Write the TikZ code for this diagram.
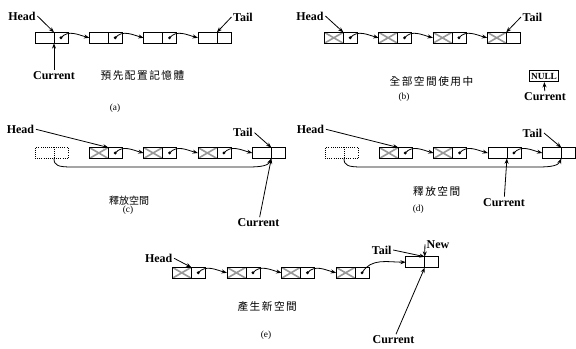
\documentclass[tikz,border=0pt]{standalone}
\usepackage{fontspec}
\setmainfont{Liberation Serif}
\newfontfamily\cjk[LetterSpace=14]{Noto Sans CJK TC}
\newfontfamily\cjkc{Noto Sans CJK TC}
\usetikzlibrary{arrows.meta,positioning}

\begin{document}
\begin{tikzpicture}[x=0.75pt,y=0.75pt,>={Stealth[length=4pt,width=3pt]},line width=0.6pt,
 dat/.style={draw,minimum width=14.25pt,minimum height=8.25pt,inner sep=0pt,outer sep=0pt},
 ptr/.style={dat,minimum width=10.5pt},
 used/.style={path picture={\draw[black!40,line width=1.2pt]
   (path picture bounding box.north west) -- (path picture bounding box.south east)
   (path picture bounding box.south west) -- (path picture bounding box.north east);}},
 free/.style={densely dotted},
 lbl/.style={font=\bfseries\fontsize{9}{10}\selectfont,inner sep=1pt},
 zh/.style={font=\cjk\fontsize{8}{9}\selectfont,inner sep=0pt},
 subcap/.style={font=\fontsize{7}{8}\selectfont,inner sep=0pt}]
\useasboundingbox (0,0) rectangle (576,-349);

% (a) list kept in advance
\foreach \i/\x in {1/44.5,2/98.8,3/153.1,4/207.4}{
  \node[dat] (a\i) at (\x,-37.8) {};
  \node[ptr,right=0pt of a\i] (pa\i) {};
}
\foreach \i/\j in {1/2,2/3,3/4}{
  \fill (pa\i.center) circle (1.6);
  \draw[->] (pa\i.center) to[out=50,in=165] (a\j.west);
}
\node[lbl] (headA) at (22,-16) {Head};
\node[lbl] (tailA) at (243,-17) {Tail};
\node[lbl] (curA) at (54,-76) {Current};
\draw[->] (headA.east) -- (a1.north east);
\draw[->] (tailA.west) -- (a4.north east);
\draw[->] (curA) -- (a1.south east);
\node[zh] (txtA) at (142.5,-75) {預先配置記憶體};
\node[subcap] (capA) at (115,-108) {(a)};

% (b) every cell taken
\foreach \i/\x in {1/333.8,2/388.1,3/442.4,4/496.7}{
  \node[dat,used] (b\i) at (\x,-37.8) {};
  \node[ptr,right=0pt of b\i] (pb\i) {};
}
\foreach \i/\j in {1/2,2/3,3/4}{
  \fill (pb\i.center) circle (1.6);
  \draw[->] (pb\i.center) to[out=50,in=165] (b\j.west);
}
\node[lbl] (headB) at (310,-16) {Head};
\node[lbl] (tailB) at (532.5,-17) {Tail};
\draw[->] (headB.east) -- (b1.north east);
\draw[->] (tailB.west) -- (b4.north east);
\node[draw,font=\bfseries\fontsize{7}{8}\selectfont,inner sep=1pt,minimum height=8.25pt] (nul) at (544,-76.2) {NULL};
\node[lbl] (curB) at (545,-97) {Current};
\draw[->] (curB) -- (nul);
\node[zh] (txtB) at (431.5,-81) {全部空間使用中};
\node[subcap] (capB) at (404,-97.5) {(b)};

% (c) head cell given back
\node[dat,free] (c1) at (44.5,-153) {};
\node[ptr,free,right=0pt of c1] (pc1) {};
\foreach \i/\x in {2/98.8,3/153.1,4/207.4}{
  \node[dat,used] (c\i) at (\x,-153) {};
  \node[ptr,right=0pt of c\i] (pc\i) {};
}
\node[dat] (c5) at (261.8,-153) {};
\node[ptr,right=0pt of c5] (pc5) {};
\foreach \i/\j in {2/3,3/4,4/5}{
  \fill (pc\i.center) circle (1.6);
  \draw[->] (pc\i.center) to[out=50,in=165] (c\j.west);
}
\draw[->] (c1.south east) .. controls +(0,-7) and +(-14,0) .. (72,-167)
  -- (248,-167) .. controls +(14,0) and +(-3,-7) .. (c5.south east);
\node[lbl] (headC) at (20.5,-129.3) {Head};
\node[lbl] (tailC) at (243,-132.7) {Tail};
\node[lbl] (curC) at (258.5,-223) {Current};
\draw[->] (headC.east) -- (c2.north east);
\draw[->] (tailC.east) -- (c5.north east);
\draw[->] (curC) -- (c5.south east);
\node[font=\cjkc\fontsize{7.5}{8}\selectfont,inner sep=0pt] (txtC) at (129,-200.5) {釋放空間};
\node[subcap] (capC) at (128,-209.8) {(c)};

% (d) second cell given back
\node[dat,free] (d1) at (334.5,-153) {};
\node[ptr,free,right=0pt of d1] (pd1) {};
\foreach \i/\x in {2/388.8,3/443.1}{
  \node[dat,used] (d\i) at (\x,-153) {};
  \node[ptr,right=0pt of d\i] (pd\i) {};
}
\foreach \i/\x in {4/497.4,5/551.8}{
  \node[dat] (d\i) at (\x,-153) {};
  \node[ptr,right=0pt of d\i] (pd\i) {};
}
\foreach \i/\j in {2/3,3/4,4/5}{
  \fill (pd\i.center) circle (1.6);
  \draw[->] (pd\i.center) to[out=50,in=165] (d\j.west);
}
\draw[->] (d1.south east) .. controls +(0,-7) and +(-14,0) .. (362,-167)
  -- (538,-167) .. controls +(14,0) and +(-3,-7) .. (d5.south east);
\node[lbl] (headD) at (310.5,-129.3) {Head};
\node[lbl] (tailD) at (532.5,-133) {Tail};
\node[lbl] (curD) at (504,-202.3) {Current};
\draw[->] (headD.east) -- (d2.north east);
\draw[->] (tailD.east) -- (d5.north east);
\draw[->] (curD) -- (d4.south east);
\node[zh] (txtD) at (436.7,-191) {釋放空間};
\node[subcap] (capD) at (418.3,-209.5) {(d)};

% (e) new cell appended at the tail
\foreach \i/\x in {1/181.8,2/236.4,3/291,4/345.6}{
  \node[dat,used] (e\i) at (\x,-272.8) {};
  \node[ptr,right=0pt of e\i] (pe\i) {};
}
\node[dat] (e5) at (415.2,-262.2) {};
\node[ptr,right=0pt of e5] (pe5) {};
\foreach \i/\j in {1/2,2/3,3/4}{
  \fill (pe\i.center) circle (1.6);
  \draw[->] (pe\i.center) to[out=50,in=165] (e\j.west);
}
\fill (pe4.center) circle (1.6);
\draw[->] (pe4.center) to[out=60,in=180] (e5.west);
\node[lbl] (headE) at (158.7,-258.3) {Head};
\node[lbl] (tailE) at (381.7,-250) {Tail};
\node[lbl] (newE) at (438,-244.3) {New};
\node[lbl] (curE) at (393.5,-340) {Current};
\draw[->] (headE.east) -- (e1.north east);
\draw[->] (tailE.east) -- (e5.north east);
\draw[->] (newE.west) -- (e5.north east);
\draw[->] (curE) -- (e5.south east);
\node[zh] (txtE) at (267.2,-306.7) {產生新空間};
\node[subcap] (capE) at (266,-335) {(e)};
\end{tikzpicture}
\end{document}
